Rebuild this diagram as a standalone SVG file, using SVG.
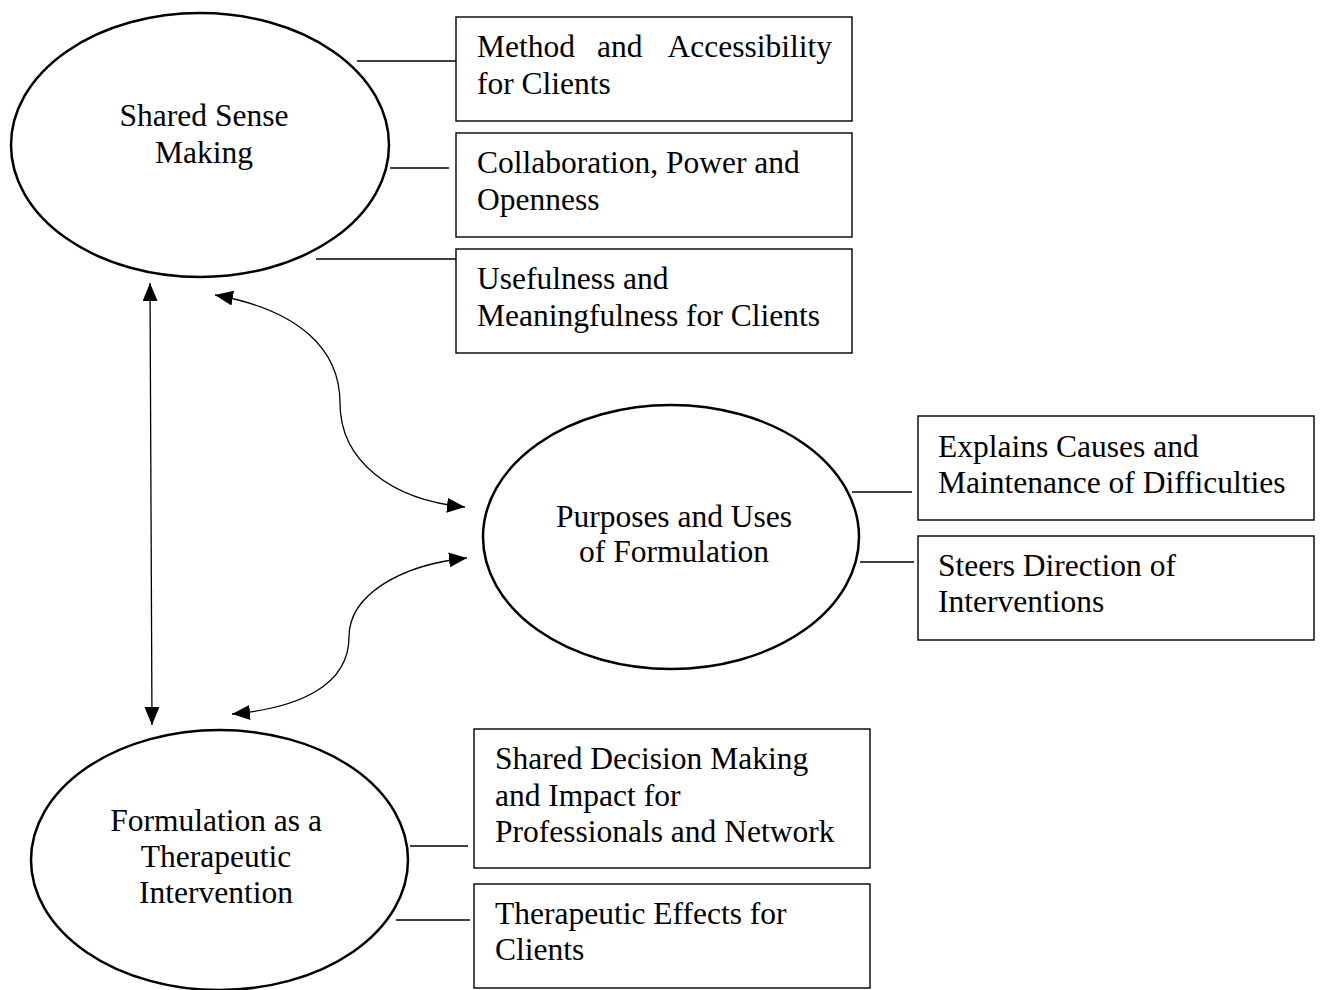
<svg xmlns="http://www.w3.org/2000/svg" width="1321" height="990" viewBox="0 0 1321 990">
<style>
text{font-family:"Liberation Serif","Times New Roman",serif;font-size:31.5px;fill:#000}
.ell{fill:#fff;stroke:#000;stroke-width:2.5}
.box{fill:#fff;stroke:#000;stroke-width:1.4}
.tie{stroke:#000;stroke-width:1.3;fill:none}
.arr{stroke:#000;stroke-width:1.3;fill:none;marker-start:url(#ah);marker-end:url(#ah)}
.c{text-anchor:middle}
</style>
<defs>
<marker id="ah" markerUnits="userSpaceOnUse" markerWidth="19" markerHeight="15" refX="18" refY="7.5" orient="auto-start-reverse">
<path d="M0,0 L18,7.5 L0,15 z" fill="#000"/>
</marker>
</defs>
<rect width="1321" height="990" fill="#fff"/>
<g id="connectors">
<line class="tie" x1="357" y1="61" x2="458" y2="61"/>
<line class="tie" x1="390" y1="168" x2="449" y2="168"/>
<line class="tie" x1="316" y1="259" x2="456" y2="259"/>
<line class="tie" x1="852" y1="492" x2="912" y2="492"/>
<line class="tie" x1="860" y1="562" x2="914" y2="562"/>
<line class="tie" x1="410" y1="846" x2="468" y2="846"/>
<line class="tie" x1="396" y1="920" x2="470" y2="920"/>
<line class="arr" x1="150" y1="283" x2="152" y2="725"/>
<path class="arr" d="M215,295 C300,310 340,350 340,403 C340,460 390,500 465,507"/>
<path class="arr" d="M467,558 C400,565 349,595 349,637 C349,685 300,708 232,714"/>
</g>
<g id="shared-sense-making">
<ellipse class="ell" cx="200" cy="145" rx="189" ry="132"/>
<text class="c" x="204" y="126">Shared Sense</text>
<text class="c" x="204" y="163">Making</text>
</g>
<g id="purposes-uses">
<ellipse class="ell" cx="671" cy="537" rx="188" ry="132"/>
<text class="c" x="674" y="527">Purposes and Uses</text>
<text class="c" x="674" y="562">of Formulation</text>
</g>
<g id="therapeutic-intervention">
<ellipse class="ell" cx="219.5" cy="860" rx="188.5" ry="130"/>
<text class="c" x="216" y="831">Formulation as a</text>
<text class="c" x="216" y="867">Therapeutic</text>
<text class="c" x="216" y="903">Intervention</text>
</g>
<g id="method-accessibility">
<rect class="box" x="456" y="17" width="396" height="104"/>
<text x="477" y="57">Method</text>
<text x="597" y="57">and</text>
<text x="832" y="57" text-anchor="end">Accessibility</text>
<text x="477" y="94">for Clients</text>
</g>
<g id="collaboration-power">
<rect class="box" x="456" y="133" width="396" height="104"/>
<text x="477" y="173">Collaboration, Power and</text>
<text x="477" y="210">Openness</text>
</g>
<g id="usefulness-meaningfulness">
<rect class="box" x="456" y="249" width="396" height="104"/>
<text x="477" y="289">Usefulness and</text>
<text x="477" y="326">Meaningfulness for Clients</text>
</g>
<g id="explains-causes">
<rect class="box" x="918" y="416" width="396" height="104"/>
<text x="938" y="457">Explains Causes and</text>
<text x="938" y="493">Maintenance of Difficulties</text>
</g>
<g id="steers-direction">
<rect class="box" x="918" y="536" width="396" height="104"/>
<text x="938" y="576">Steers Direction of</text>
<text x="938" y="612">Interventions</text>
</g>
<g id="shared-decision">
<rect class="box" x="474" y="729" width="396" height="139"/>
<text x="495" y="769">Shared Decision Making</text>
<text x="495" y="806">and Impact for</text>
<text x="495" y="842">Professionals and Network</text>
</g>
<g id="therapeutic-effects">
<rect class="box" x="474" y="884" width="396" height="104"/>
<text x="495" y="924">Therapeutic Effects for</text>
<text x="495" y="960">Clients</text>
</g>
</svg>
